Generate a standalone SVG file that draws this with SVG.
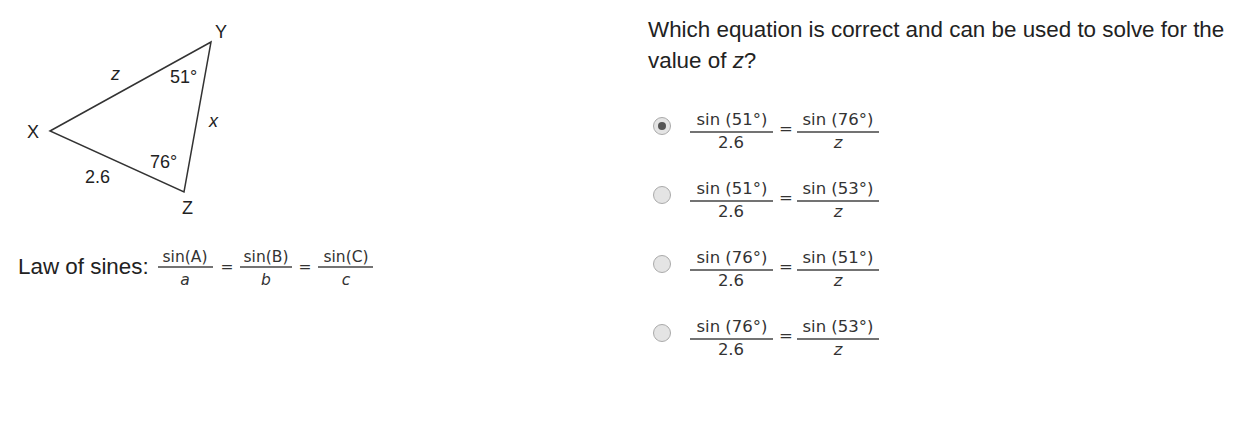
<svg xmlns="http://www.w3.org/2000/svg" width="1255" height="435" viewBox="0 0 1255 435">
<style>
.lbl{font-family:"Liberation Sans",Arial,sans-serif;font-size:18px;fill:#222}
.q{font-family:"Liberation Sans",Arial,sans-serif;font-size:22.4px;fill:#222}
.f{font-family:"DejaVu Sans",Verdana,sans-serif;font-size:16.5px;fill:#333;text-anchor:middle}
.fi{font-family:"DejaVu Sans",Verdana,sans-serif;font-size:16.5px;fill:#333;text-anchor:middle;font-style:italic}
.ls{font-family:"DejaVu Sans",Verdana,sans-serif;font-size:15.5px;fill:#333;text-anchor:middle}
.bar{stroke:#444;stroke-width:1.3}
.radio{fill:#e4e4e4;stroke:#aaa;stroke-width:1}
</style>
<rect width="1255" height="435" fill="#fff"/>
<g id="triangle">
<polygon points="50,131 211,42 184,192" fill="none" stroke="#333" stroke-width="1.5"/>
<text class="lbl" x="215" y="38">Y</text>
<text class="lbl" x="111" y="80" font-style="italic">z</text>
<text class="lbl" x="170" y="83">51°</text>
<text class="lbl" x="27" y="138">X</text>
<text class="lbl" x="209" y="127" font-style="italic">x</text>
<text class="lbl" x="150" y="168">76°</text>
<text class="lbl" x="85" y="183">2.6</text>
<text class="lbl" x="182" y="214">Z</text>
</g>
<g id="law">
<text class="q" x="18" y="274">Law of sines:</text>
<text class="ls" x="185" y="262">sin(A)</text>
<line class="bar" x1="158" y1="267" x2="213" y2="267"/>
<text class="ls" x="185" y="285" font-style="italic">a</text>
<text class="ls" x="227" y="272">=</text>
<text class="ls" x="266" y="262">sin(B)</text>
<line class="bar" x1="240" y1="267" x2="292" y2="267"/>
<text class="ls" x="266" y="285" font-style="italic">b</text>
<text class="ls" x="305" y="272">=</text>
<text class="ls" x="346" y="262">sin(C)</text>
<line class="bar" x1="318" y1="267" x2="373" y2="267"/>
<text class="ls" x="346" y="285" font-style="italic">c</text>
</g>
<g id="question">
<text class="q" x="648" y="37">Which equation is correct and can be used to solve for the</text>
<text class="q" x="648" y="68">value of <tspan font-style="italic">z</tspan>?</text>
</g>
<g id="opt1">
<circle class="radio" cx="662" cy="126" r="8.5"/>
<circle cx="662" cy="126" r="4" fill="#555"/>
<text class="f" x="732" y="125">sin (51°)</text>
<line class="bar" x1="690" y1="132" x2="773" y2="132"/>
<text class="f" x="731" y="148">2.6</text>
<text class="f" x="786" y="134">=</text>
<text class="f" x="838" y="125">sin (76°)</text>
<line class="bar" x1="797" y1="132" x2="879" y2="132"/>
<text class="fi" x="838" y="148">z</text>
</g>
<g id="opt2">
<circle class="radio" cx="662" cy="195" r="8.5"/>
<text class="f" x="732" y="194">sin (51°)</text>
<line class="bar" x1="690" y1="201" x2="773" y2="201"/>
<text class="f" x="731" y="217">2.6</text>
<text class="f" x="786" y="203">=</text>
<text class="f" x="838" y="194">sin (53°)</text>
<line class="bar" x1="797" y1="201" x2="879" y2="201"/>
<text class="fi" x="838" y="217">z</text>
</g>
<g id="opt3">
<circle class="radio" cx="662" cy="264" r="8.5"/>
<text class="f" x="732" y="263">sin (76°)</text>
<line class="bar" x1="690" y1="270" x2="773" y2="270"/>
<text class="f" x="731" y="286">2.6</text>
<text class="f" x="786" y="272">=</text>
<text class="f" x="838" y="263">sin (51°)</text>
<line class="bar" x1="797" y1="270" x2="879" y2="270"/>
<text class="fi" x="838" y="286">z</text>
</g>
<g id="opt4">
<circle class="radio" cx="662" cy="333" r="8.5"/>
<text class="f" x="732" y="332">sin (76°)</text>
<line class="bar" x1="690" y1="339" x2="773" y2="339"/>
<text class="f" x="731" y="355">2.6</text>
<text class="f" x="786" y="341">=</text>
<text class="f" x="838" y="332">sin (53°)</text>
<line class="bar" x1="797" y1="339" x2="879" y2="339"/>
<text class="fi" x="838" y="355">z</text>
</g>
<g id="connectors"></g>
</svg>
